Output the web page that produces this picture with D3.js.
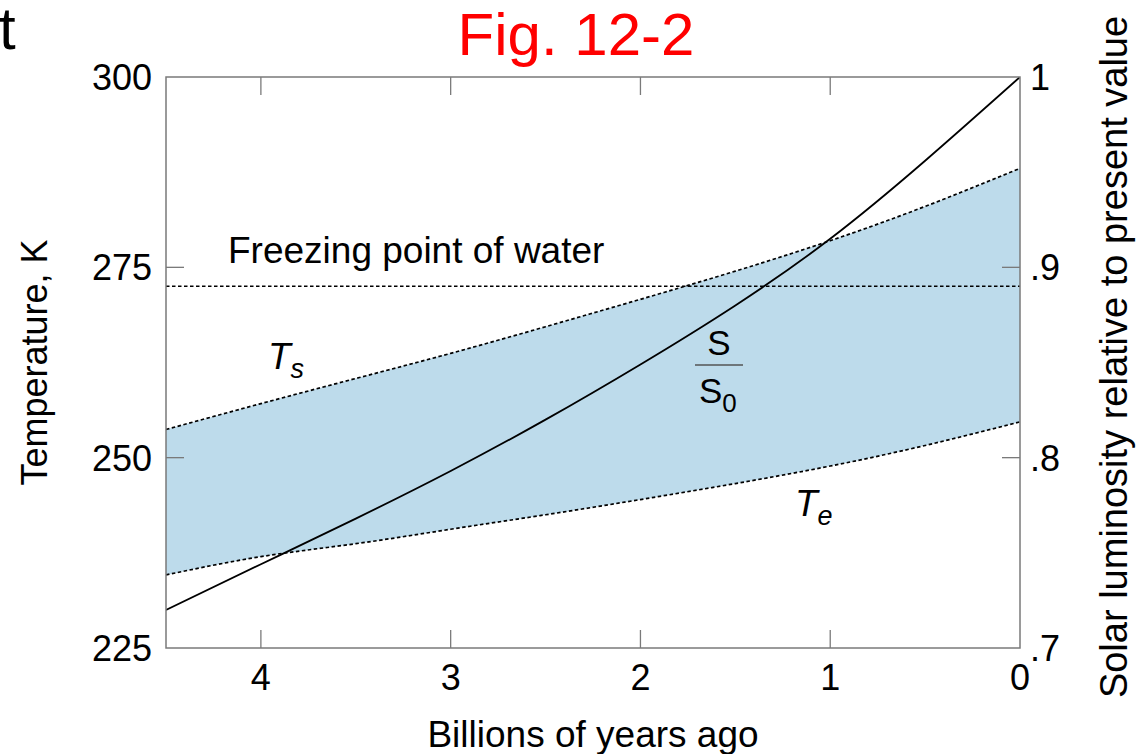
<!DOCTYPE html>
<html>
<head>
<meta charset="utf-8">
<script src="https://cdn.jsdelivr.net/npm/d3@7"></script>
<style>
  body { margin: 0; background: #fff; }
  svg text { font-family: "Liberation Sans", Arial, Helvetica, sans-serif; fill: #000; }
</style>
</head>
<body>
<svg id="chart" width="1136" height="754"></svg>
<script>
// data
var ages = [4.5, 4.0, 3.5, 3.0, 2.5, 2.0, 1.5, 1.0, 0.5, 0.0];           // billions of years ago
var surfaceTemp = [253.7, 257.1, 260.4, 263.7, 267.2, 270.8, 274.5, 278.5, 283.0, 288.0];   // Ts, K
var effectiveTemp = [234.6, 237.0, 238.7, 240.6, 242.5, 244.5, 246.6, 248.9, 251.6, 254.7]; // Te, K
var solarRatio = [0.720, 0.744, 0.768, 0.793, 0.820, 0.849, 0.880, 0.915, 0.956, 1.0];      // S/S0
var freezingPoint = 272.5;
var xTicks = [4, 3, 2, 1, 0];
var yTicks = [225, 250, 275, 300];
var rTicks = [0.7, 0.8, 0.9, 1.0];

var svg = d3.select("#chart");

// plot box
var boxLeft = 166, boxRight = 1020, boxTop = 77, boxBottom = 648;

var x = d3.scaleLinear().domain([4.5, 0]).range([boxLeft, boxRight]);
var y = d3.scaleLinear().domain([225, 300]).range([boxBottom, boxTop]);
var yR = d3.scaleLinear().domain([0.7, 1.0]).range([boxBottom, boxTop]);

var rows = ages.map(function(a, i) {
    return { age: a, ts: surfaceTemp[i], te: effectiveTemp[i], s: solarRatio[i] };
});

svg.append("defs").append("clipPath").attr("id", "plotclip")
    .append("rect").attr("x", boxLeft).attr("y", boxTop)
    .attr("width", boxRight - boxLeft).attr("height", boxBottom - boxTop);

var plot = svg.append("g").attr("clip-path", "url(#plotclip)");

// shaded band between Te and Ts
plot.append("path")
    .datum(rows)
    .attr("fill", "#bddbeb")
    .attr("d", d3.area()
        .curve(d3.curveNatural)
        .x(function(d) { return x(d.age); })
        .y0(function(d) { return y(d.te); })
        .y1(function(d) { return y(d.ts); }));

// dashed Ts and Te
["ts", "te"].forEach(function(k) {
    plot.append("path")
        .datum(rows)
        .attr("fill", "none")
        .attr("stroke", "#000")
        .attr("stroke-width", 1.7)
        .attr("stroke-dasharray", "3.5,2.5")
        .attr("d", d3.line()
            .curve(d3.curveNatural)
            .x(function(d) { return x(d.age); })
            .y(function(d) { return y(d[k]); }));
});

// freezing point line
plot.append("line")
    .attr("x1", x(4.5)).attr("x2", x(0))
    .attr("y1", y(freezingPoint)).attr("y2", y(freezingPoint))
    .attr("stroke", "#000")
    .attr("stroke-width", 1.5)
    .attr("stroke-dasharray", "3.5,2.5");

// solar luminosity curve (right axis)
plot.append("path")
    .datum(rows)
    .attr("fill", "none")
    .attr("stroke", "#000")
    .attr("stroke-width", 1.8)
    .attr("d", d3.line()
        .curve(d3.curveNatural)
        .x(function(d) { return x(d.age); })
        .y(function(d) { return yR(d.s); }));

// frame
var frameColor = "#7a7a7a";
svg.append("rect")
    .attr("x", boxLeft).attr("y", boxTop)
    .attr("width", boxRight - boxLeft).attr("height", boxBottom - boxTop)
    .attr("fill", "none")
    .attr("stroke", frameColor)
    .attr("stroke-width", 1.5);

var tickLen = 18;

// x ticks (inward, top and bottom)
xTicks.forEach(function(t) {
    if (t > 0) {
        svg.append("line").attr("x1", x(t)).attr("x2", x(t))
            .attr("y1", boxBottom).attr("y2", boxBottom - tickLen)
            .attr("stroke", frameColor).attr("stroke-width", 1.3);
        svg.append("line").attr("x1", x(t)).attr("x2", x(t))
            .attr("y1", boxTop).attr("y2", boxTop + tickLen)
            .attr("stroke", frameColor).attr("stroke-width", 1.3);
    }
    svg.append("text")
        .attr("x", x(t)).attr("y", boxBottom + 42)
        .attr("text-anchor", "middle")
        .attr("font-size", 36)
        .text(d3.format("d")(t));
});

// left ticks
yTicks.forEach(function(t) {
    if (t > 225 && t < 300) {
        svg.append("line").attr("x1", boxLeft).attr("x2", boxLeft + tickLen)
            .attr("y1", y(t)).attr("y2", y(t))
            .attr("stroke", frameColor).attr("stroke-width", 1.3);
    }
    svg.append("text")
        .attr("x", 152).attr("y", y(t)).attr("dy", "0.36em")
        .attr("text-anchor", "end")
        .attr("font-size", 36)
        .text(t);
});

// right ticks
rTicks.forEach(function(t) {
    if (t > 0.7 && t < 1) {
        svg.append("line").attr("x1", boxRight).attr("x2", boxRight - tickLen)
            .attr("y1", yR(t)).attr("y2", yR(t))
            .attr("stroke", frameColor).attr("stroke-width", 1.3);
    }
    svg.append("text")
        .attr("x", 1030).attr("y", yR(t)).attr("dy", "0.36em")
        .attr("text-anchor", "start")
        .attr("font-size", 36)
        .text(t === 1 ? "1" : d3.format(".1f")(t).replace(/^0/, ""));
});

// axis titles
svg.append("text")
    .attr("transform", "translate(47," + ((boxTop + boxBottom) / 2) + ") rotate(-90)")
    .attr("text-anchor", "middle")
    .attr("font-size", 36)
    .text("Temperature, K");

svg.append("text")
    .attr("transform", "translate(1127,357) rotate(-90)")
    .attr("text-anchor", "middle")
    .attr("font-size", 38)
    .text("Solar luminosity relative to present value");

svg.append("text")
    .attr("x", (boxLeft + boxRight) / 2).attr("y", 747)
    .attr("text-anchor", "middle")
    .attr("font-size", 37)
    .text("Billions of years ago");

// figure title
svg.append("text")
    .attr("x", 576).attr("y", 55)
    .attr("text-anchor", "middle")
    .attr("font-size", 60)
    .style("fill", "#ff0000")
    .text("Fig. 12-2");

svg.append("text")
    .attr("x", -1).attr("y", 49)
    .attr("font-size", 60)
    .text("t");

// annotations
svg.append("text")
    .attr("x", 228).attr("y", 263)
    .attr("font-size", 37)
    .text("Freezing point of water");

function subLabel(xp, yp, main, sub) {
    var t = svg.append("text").attr("x", xp).attr("y", yp)
        .attr("font-size", 37).attr("font-style", "italic");
    t.append("tspan").text(main);
    t.append("tspan").attr("dy", 9).attr("font-size", 27).text(sub);
}
subLabel(268, 369, "T", "s");
subLabel(795, 516, "T", "e");

svg.append("text")
    .attr("x", 719).attr("y", 355)
    .attr("text-anchor", "middle")
    .attr("font-size", 35)
    .text("S");
svg.append("line")
    .attr("x1", 695).attr("x2", 743)
    .attr("y1", 365).attr("y2", 365)
    .attr("stroke", "#555").attr("stroke-width", 1.5);
var s0 = svg.append("text")
    .attr("x", 699).attr("y", 403)
    .attr("font-size", 35);
s0.append("tspan").text("S");
s0.append("tspan").attr("dy", 9).attr("font-size", 26).text("0");
</script>
</body>
</html>
